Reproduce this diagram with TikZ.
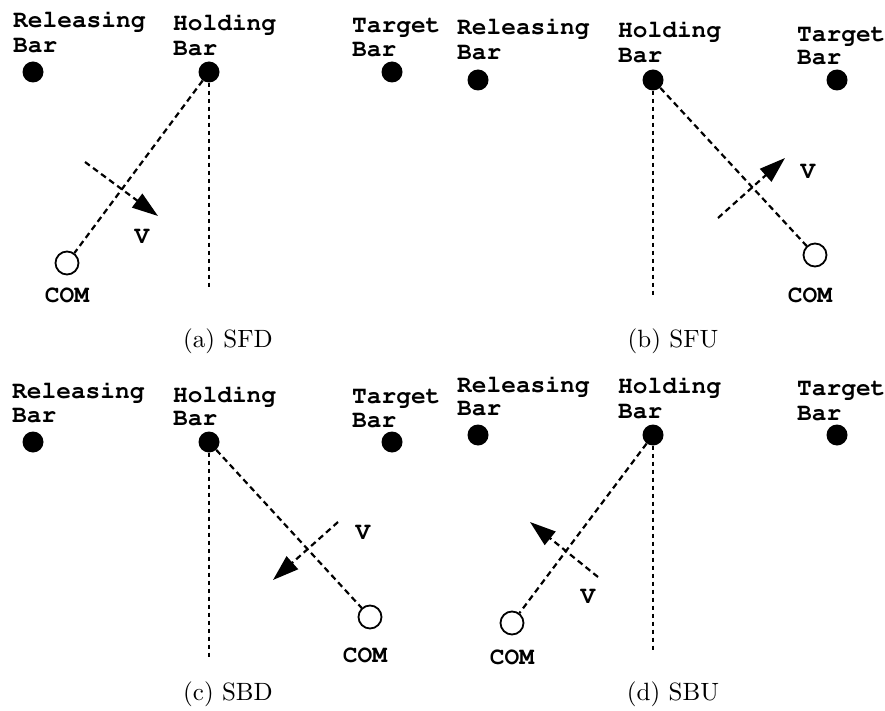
\documentclass[tikz,border=0pt]{standalone}
\usepackage{fontspec}
\usepackage[T1,TU]{fontenc}
\usetikzlibrary{arrows.meta}
\newfontfamily\capfont{lmroman10-regular.otf}
\newcommand\courtext{\fontencoding{T1}\fontfamily{pcr}\fontseries{b}\fontshape{n}\fontsize{24.5}{26}\selectfont}
\newcommand\capttext{\capfont\fontsize{25}{28}\selectfont}
\tikzset{
  lbl/.style={anchor=base west, inner sep=0pt, font=\courtext},
  mlbl/.style={anchor=center, inner sep=0pt, font=\courtext},
  bardot/.style={circle, fill=black, inner sep=0pt, minimum size=21pt},
  comc/.style={circle, draw, line width=1.8pt, fill=white, inner sep=0pt, minimum size=23pt},
  dline/.style={line width=2.2pt, dash pattern=on 6pt off 4pt},
  vline/.style={line width=2.2pt, dash pattern=on 4pt off 4pt},
  varrow/.style={line width=2.2pt, dash pattern=on 6pt off 4pt, -{Triangle[length=26pt,width=17pt]}},
  capt/.style={anchor=base, inner sep=0pt, font=\capttext},
}
\begin{document}
\begin{tikzpicture}[x=1pt,y=-1pt]
\useasboundingbox (0,0) rectangle (885,711);
% ---------- (a) SFD ----------
\node[lbl] (a-rel1) at (13,28) {Releasing};
\node[lbl] (a-rel2) at (13,53) {Bar};
\node[lbl] (a-hol1) at (173,31) {Holding};
\node[lbl] (a-hol2) at (173,56) {Bar};
\node[lbl] (a-tar1) at (352,33) {Target};
\node[lbl] (a-tar2) at (352,57) {Bar};
\node[bardot] (a-r) at (33,72) {};
\node[bardot] (a-h) at (209,72) {};
\node[bardot] (a-t) at (392,72) {};
\node[comc] (a-c) at (67,263) {};
\node[mlbl] (a-com) at (67,295) {COM};
\node[mlbl] (a-v) at (142,237) {V};
\coordinate (a-vend) at (209,290);
\coordinate (a-v0) at (85,162);
\coordinate (a-v1) at (158,216);
\draw[vline] (a-h) -- (a-vend);
\draw[dline] (a-h) -- (a-c);
\draw[varrow] (a-v0) -- (a-v1);
\node[capt] (a-cap) at (228,347) {(a) SFD};
% ---------- (b) SFU ----------
\node[lbl] (b-rel1) at (457,35) {Releasing};
\node[lbl] (b-rel2) at (457,60) {Bar};
\node[lbl] (b-hol1) at (618,38) {Holding};
\node[lbl] (b-hol2) at (618,63) {Bar};
\node[lbl] (b-tar1) at (797,42) {Target};
\node[lbl] (b-tar2) at (797,65) {Bar};
\node[bardot] (b-r) at (478,80) {};
\node[bardot] (b-h) at (653,80) {};
\node[bardot] (b-t) at (837,80) {};
\node[comc] (b-c) at (815,255) {};
\node[mlbl] (b-com) at (810,295) {COM};
\node[mlbl] (b-v) at (808,172) {V};
\coordinate (b-vend) at (653,297);
\coordinate (b-v0) at (718,218);
\coordinate (b-v1) at (785,158);
\draw[vline] (b-h) -- (b-vend);
\draw[dline] (b-h) -- (b-c);
\draw[varrow] (b-v0) -- (b-v1);
\node[capt] (b-cap) at (673,347) {(b) SFU};
% ---------- (c) SBD ----------
\node[lbl] (c-rel1) at (12,398) {Releasing};
\node[lbl] (c-rel2) at (12,422) {Bar};
\node[lbl] (c-hol1) at (173,402) {Holding};
\node[lbl] (c-hol2) at (173,425) {Bar};
\node[lbl] (c-tar1) at (352,403) {Target};
\node[lbl] (c-tar2) at (352,427) {Bar};
\node[bardot] (c-r) at (33,442) {};
\node[bardot] (c-h) at (209,442) {};
\node[bardot] (c-t) at (392,442) {};
\node[comc] (c-c) at (370,617) {};
\node[mlbl] (c-com) at (365,655) {COM};
\node[mlbl] (c-v) at (363,533) {V};
\coordinate (c-vend) at (209,658);
\coordinate (c-v0) at (338,522);
\coordinate (c-v1) at (273,580);
\draw[vline] (c-h) -- (c-vend);
\draw[dline] (c-h) -- (c-c);
\draw[varrow] (c-v0) -- (c-v1);
\node[capt] (c-cap) at (228,700) {(c) SBD};
% ---------- (d) SBU ----------
\node[lbl] (d-rel1) at (457,392) {Releasing};
\node[lbl] (d-rel2) at (457,415) {Bar};
\node[lbl] (d-hol1) at (618,393) {Holding};
\node[lbl] (d-hol2) at (618,418) {Bar};
\node[lbl] (d-tar1) at (797,395) {Target};
\node[lbl] (d-tar2) at (797,420) {Bar};
\node[bardot] (d-r) at (478,435) {};
\node[bardot] (d-h) at (653,435) {};
\node[bardot] (d-t) at (837,435) {};
\node[comc] (d-c) at (512,623) {};
\node[mlbl] (d-com) at (512,657) {COM};
\node[mlbl] (d-v) at (588,597) {V};
\coordinate (d-vend) at (653,652);
\coordinate (d-v0) at (598,577);
\coordinate (d-v1) at (530,522);
\draw[vline] (d-h) -- (d-vend);
\draw[dline] (d-h) -- (d-c);
\draw[varrow] (d-v0) -- (d-v1);
\node[capt] (d-cap) at (673,700) {(d) SBU};
\end{tikzpicture}
\end{document}
